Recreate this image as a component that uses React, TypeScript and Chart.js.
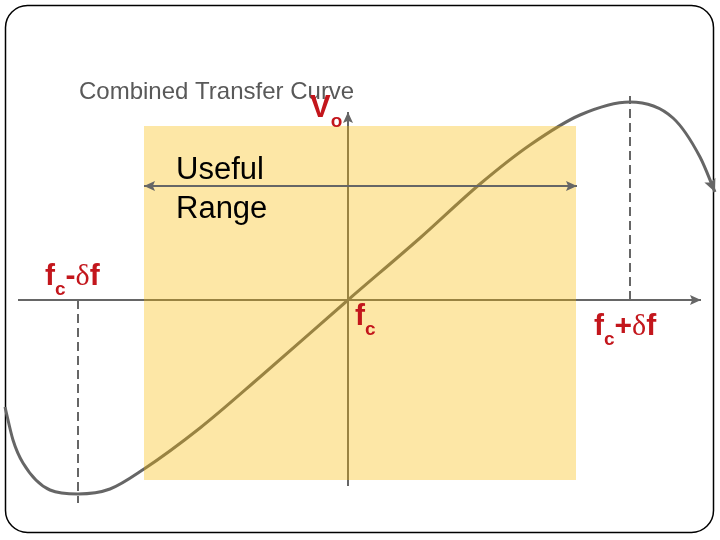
import React, { useEffect, useRef } from "react";
import { Chart, registerables } from "chart.js";

Chart.register(...registerables);

// ---- Data (x: frequency offset from fc, y: output voltage Vo) ----
const curveX = [-3.43, -3.35, -3.25, -2.98, -2.7, -2.38, -2.04, -1.48, -0.88, 0, 0.72, 1.32, 1.82, 2.32, 2.82, 3.25, 3.52, 3.67];
const curveY = [-1.07, -1.4, -1.63, -1.9, -1.94, -1.89, -1.69, -1.28, -0.77, 0, 0.62, 1.16, 1.55, 1.85, 1.98, 1.82, 1.43, 1.08];

const xAxisRange = [-3.3, 3.53];
const yAxisRange = [-1.86, 1.88];
const markerX = [-2.7, 2.82]; // fc - δf, fc + δf
const markerYFrom = [0, 0];
const markerYTo = [-2.03, 2.04];
const usefulRangeX = [-2.04, 2.28];
const usefulRangeY = [1.74, -1.8];
const usefulArrowX = [-2.04, 2.29];
const usefulArrowY = 1.14;

const textLabels = ["Combined Transfer Curve", "Useful", "Range"];
const textX = [-2.69, -1.72, -1.72];
const textY = [2.01, 1.21, 0.82];

const symbolMain = ["V", "f", "f", "f"];
const symbolSub = ["o", "c", "c", "c"];
const symbolRest = ["", "-", "", "+"];
const symbolDelta = ["", "δf", "", "δf"];
const symbolX = [-0.38, -3.03, 0.07, 2.46];
const symbolY = [1.83, 0.15, -0.25, -0.35];

const GRAY = "#666666";
const RED = "#c3161c";
const SANS = "'Liberation Sans', Arial, sans-serif";
const SERIF = "'Liberation Serif', 'Times New Roman', serif";

function arrowHead(ctx: CanvasRenderingContext2D, tx: number, ty: number, fx: number, fy: number, len: number, half: number, color: string) {
  const a = Math.atan2(ty - fy, tx - fx);
  ctx.save();
  ctx.translate(tx, ty);
  ctx.rotate(a);
  ctx.beginPath();
  ctx.moveTo(0, 0);
  ctx.lineTo(-len, -half);
  ctx.lineTo(-len * 0.8, 0);
  ctx.lineTo(-len, half);
  ctx.closePath();
  ctx.fillStyle = color;
  ctx.fill();
  ctx.restore();
}

const decor = {
  id: "decor",
  beforeDraw(chart: any) {
    const ctx: CanvasRenderingContext2D = chart.ctx;
    ctx.save();
    ctx.fillStyle = "#ffffff";
    ctx.fillRect(0, 0, chart.width, chart.height);
    ctx.beginPath();
    (ctx as any).roundRect(5.5, 5.5, 708, 527, 22);
    ctx.strokeStyle = "#000000";
    ctx.lineWidth = 1.5;
    ctx.stroke();
    ctx.restore();
  },
  afterDatasetsDraw(chart: any) {
    const ctx: CanvasRenderingContext2D = chart.ctx;
    const xs = chart.scales.x;
    const ys = chart.scales.y;
    const px = (v: number) => xs.getPixelForValue(v);
    const py = (v: number) => ys.getPixelForValue(v);
    ctx.save();
    // arrowheads
    arrowHead(ctx, px(0), py(yAxisRange[1]), px(0), py(0), 11, 5, GRAY);
    arrowHead(ctx, px(xAxisRange[1]), py(0), px(0), py(0), 11, 5, GRAY);
    arrowHead(ctx, px(usefulArrowX[0]), py(usefulArrowY), px(0), py(usefulArrowY), 11, 5, GRAY);
    arrowHead(ctx, px(usefulArrowX[1]), py(usefulArrowY), px(0), py(usefulArrowY), 11, 5, GRAY);
    const n = curveX.length;
    arrowHead(ctx, px(curveX[n - 1]), py(curveY[n - 1]), px(curveX[n - 2]), py(curveY[n - 2]), 13, 6, GRAY);

    // plain labels
    ctx.textBaseline = "alphabetic";
    ctx.textAlign = "left";
    ctx.fillStyle = "#595959";
    ctx.font = `24px ${SANS}`;
    ctx.fillText(textLabels[0], px(textX[0]), py(textY[0]));
    ctx.fillStyle = "#000000";
    ctx.font = `31px ${SANS}`;
    ctx.fillText(textLabels[1], px(textX[1]), py(textY[1]));
    ctx.fillText(textLabels[2], px(textX[2]), py(textY[2]));

    // red symbols
    for (let i = 0; i < symbolMain.length; i++) {
      let cx = px(symbolX[i]);
      const by = py(symbolY[i]);
      ctx.fillStyle = RED;
      const big = i === 0 ? `bold 31px ${SANS}` : `bold 30px ${SANS}`;
      ctx.font = big;
      ctx.fillText(symbolMain[i], cx, by);
      cx += ctx.measureText(symbolMain[i]).width;
      ctx.font = `bold 19px ${SANS}`;
      ctx.fillText(symbolSub[i], cx, by + 10);
      cx += ctx.measureText(symbolSub[i]).width;
      if (symbolRest[i]) {
        ctx.font = big;
        ctx.fillText(symbolRest[i], cx, by);
        cx += ctx.measureText(symbolRest[i]).width;
      }
      if (symbolDelta[i]) {
        ctx.font = `30px ${SERIF}`;
        ctx.fillText(symbolDelta[i][0], cx, by);
        cx += ctx.measureText(symbolDelta[i][0]).width;
        ctx.font = big;
        ctx.fillText(symbolDelta[i].slice(1), cx, by);
      }
    }
    ctx.restore();
  },
};

export default function App() {
  const ref = useRef<HTMLCanvasElement | null>(null);
  useEffect(() => {
    document.body.style.margin = "0";
    if (!ref.current) return;
    const pts = (xs: number[], ys: number[]) => xs.map((x, i) => ({ x, y: ys[i] }));
    const chart = new Chart(ref.current, {
      type: "line",
      data: {
        datasets: [
          {
            label: "markers-left",
            data: pts([markerX[0], markerX[0]], [markerYFrom[0], markerYTo[0]]),
            borderColor: GRAY,
            borderWidth: 2,
            borderDash: [9, 5],
            pointRadius: 0,
            order: 7,
          },
          {
            label: "markers-right",
            data: pts([markerX[1], markerX[1]], [markerYFrom[1], markerYTo[1]]),
            borderColor: GRAY,
            borderWidth: 2,
            borderDash: [9, 5],
            pointRadius: 0,
            order: 7,
          },
          {
            label: "x-axis",
            data: pts(xAxisRange, [0, 0]),
            borderColor: GRAY,
            borderWidth: 2,
            pointRadius: 0,
            order: 6,
          },
          {
            label: "y-axis",
            data: pts([0, 0], yAxisRange),
            borderColor: GRAY,
            borderWidth: 2,
            pointRadius: 0,
            order: 6,
          },
          {
            label: "transfer curve",
            data: pts(curveX, curveY),
            borderColor: GRAY,
            borderWidth: 3,
            pointRadius: 0,
            cubicInterpolationMode: "monotone",
            order: 5,
          },
          {
            label: "useful range",
            data: pts(usefulRangeX, [usefulRangeY[0], usefulRangeY[0]]),
            borderWidth: 0,
            borderColor: "rgba(0,0,0,0)",
            backgroundColor: "rgba(249,186,0,0.35)",
            fill: { value: usefulRangeY[1] },
            pointRadius: 0,
            order: 4,
          },
          {
            label: "useful arrow",
            data: pts(usefulArrowX, [usefulArrowY, usefulArrowY]),
            borderColor: GRAY,
            borderWidth: 2,
            pointRadius: 0,
            order: 3,
          },
        ],
      },
      options: {
        animation: false,
        responsive: false,
        devicePixelRatio: 1,
        layout: { padding: 0 },
        scales: {
          x: { type: "linear", min: -3.48, max: 3.72, display: false },
          y: { type: "linear", min: -2.4, max: 3.0, display: false },
        },
        plugins: {
          legend: { display: false },
          tooltip: { enabled: false },
          title: { display: false },
        },
        elements: { line: { borderCapStyle: "butt" } },
      } as any,
      plugins: [decor],
    });
    return () => chart.destroy();
  }, []);
  return (
    <div style={{ position: "absolute", left: 0, top: 0, width: 720, height: 540 }}>
      <canvas ref={ref} width={720} height={540} />
    </div>
  );
}
